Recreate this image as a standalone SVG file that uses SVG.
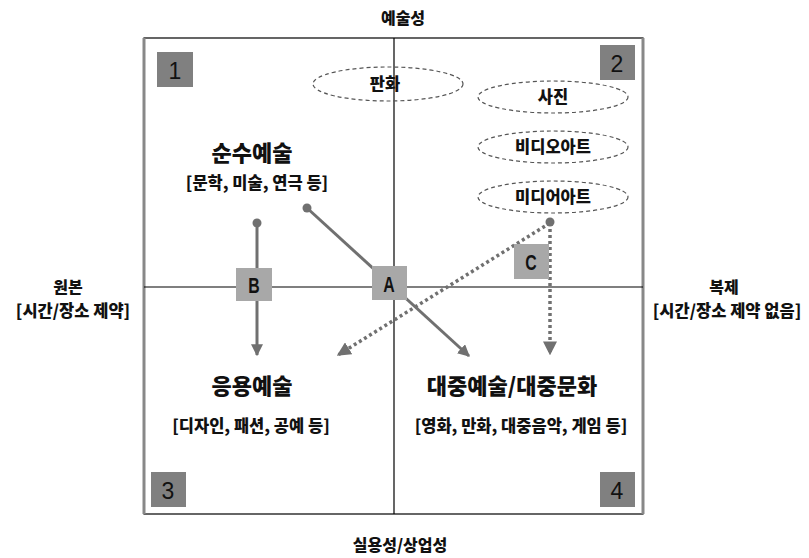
<svg xmlns="http://www.w3.org/2000/svg" width="809" height="558" viewBox="0 0 809 558">
<defs>
<style>
text{font-family:"Noto Sans CJK KR","Liberation Sans",sans-serif;fill:#111;text-anchor:middle;font-weight:900}
.axis{font-size:16px}
.axsub{font-size:16.5px}
.title{font-size:22px}
.sub{font-size:16.5px}
.num{font-family:"Liberation Sans",sans-serif;font-size:23px;font-weight:normal}
.let{font-family:"Liberation Sans",sans-serif;font-size:22px;font-weight:bold}
.nbox{fill:#808080}
.lbox{fill:#a8a8a8}
.ell{fill:none;stroke:#555;stroke-width:1.2;stroke-dasharray:4,3}
.solid{stroke:#707070;stroke-width:3;fill:none}
.dot{stroke:#707070;stroke-width:3.5;fill:none;stroke-dasharray:3,3}
.pt{fill:#707070}
.grid{stroke:#000;stroke-width:1.2;fill:none}
</style>
<marker id="ah" viewBox="0 0 10 10" refX="9" refY="5" markerWidth="4" markerHeight="4" orient="auto" markerUnits="strokeWidth">
<path d="M0,0 L10,5 L0,10 Z" fill="#707070"/>
</marker>
</defs>
<rect width="809" height="558" fill="#fff"/>
<g id="frame">
<rect x="144" y="38" width="499" height="476" class="grid"/>
<line x1="144" y1="38" x2="144" y2="514" stroke="#888" stroke-width="3"/>
<line x1="643" y1="38" x2="643" y2="514" stroke="#888" stroke-width="3"/>
<line x1="394" y1="38" x2="394" y2="514" class="grid"/>
<line x1="144" y1="287" x2="643" y2="287" class="grid"/>
</g>
<g id="axis-labels">
<text class="axis" x="403" y="24">예술성</text>
<text class="axis" x="400" y="551">실용성/상업성</text>
<text class="axis" x="68" y="293">원본</text>
<text class="axsub" x="73" y="317">[시간/장소 제약]</text>
<text class="axis" x="724" y="293">복제</text>
<text class="axsub" x="727" y="317">[시간/장소 제약 없음]</text>
</g>
<g id="q1"><rect class="nbox" x="157" y="52" width="36" height="35"/><text class="num" x="175" y="79">1</text></g>
<g id="q2"><rect class="nbox" x="600" y="45" width="35" height="35"/><text class="num" x="617" y="72">2</text></g>
<g id="q3"><rect class="nbox" x="151" y="472" width="35" height="35"/><text class="num" x="168" y="499">3</text></g>
<g id="q4"><rect class="nbox" x="600" y="472" width="35" height="35"/><text class="num" x="617" y="499">4</text></g>
<g id="pure-art">
<text class="title" x="252" y="161">순수예술</text>
<text class="sub" x="257" y="189">[문학, 미술, 연극 등]</text>
</g>
<g id="applied-art">
<text class="title" x="252" y="394">응용예술</text>
<text class="sub" x="251" y="432">[디자인, 패션, 공예 등]</text>
</g>
<g id="popular-art">
<text class="title" x="512" y="394">대중예술/대중문화</text>
<text class="sub" x="521" y="432">[영화, 만화, 대중음악, 게임 등]</text>
</g>
<g id="print"><ellipse class="ell" cx="388" cy="84" rx="75" ry="17"/><text class="sub" x="385" y="90">판화</text></g>
<g id="photo"><ellipse class="ell" cx="553" cy="97" rx="75" ry="16"/><text class="sub" x="553" y="103">사진</text></g>
<g id="videoart"><ellipse class="ell" cx="553" cy="147" rx="75" ry="16"/><text class="sub" x="553" y="153">비디오아트</text></g>
<g id="mediaart"><ellipse class="ell" cx="553" cy="197" rx="75" ry="16"/><text class="sub" x="553" y="203">미디어아트</text></g>
<g id="connectors">
<line class="solid" x1="257" y1="223" x2="257" y2="355" marker-end="url(#ah)"/>
<circle class="pt" cx="257" cy="223" r="4.5"/>
<line class="solid" x1="307" y1="208" x2="469" y2="356" marker-end="url(#ah)"/>
<circle class="pt" cx="307" cy="208" r="4.5"/>
<line class="dot" x1="550" y1="223" x2="550" y2="354" marker-end="url(#ah)"/>
<line class="dot" x1="550" y1="223" x2="338" y2="355" marker-end="url(#ah)"/>
<circle class="pt" cx="550" cy="222" r="4.5"/>
</g>
<g id="label-A"><rect class="lbox" x="372" y="266" width="35" height="34"/><text class="let" transform="translate(389 292) scale(0.72 1)">A</text></g>
<g id="label-B"><rect class="lbox" x="236" y="268" width="36" height="33"/><text class="let" transform="translate(254 293) scale(0.72 1)">B</text></g>
<g id="label-C"><rect class="lbox" x="514" y="244" width="35" height="35"/><text class="let" transform="translate(531 270) scale(0.72 1)">C</text></g>
</svg>
